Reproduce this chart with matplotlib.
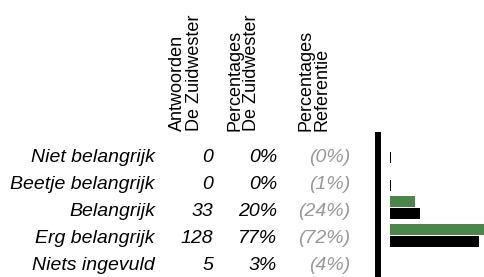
import numpy as np
import matplotlib
matplotlib.use("Agg")
import matplotlib.pyplot as plt
import matplotlib.transforms as mtransforms

plt.rcParams['font.family'] = ['Liberation Sans', 'DejaVu Sans']

# data
categories = ["Niet belangrijk", "Beetje belangrijk", "Belangrijk",
              "Erg belangrijk", "Niets ingevuld"]
counts = [0, 0, 33, 128, 5]
pct_zw = [0, 0, 20, 77, 3]
pct_ref_labels = ["(0%)", "(1%)", "(24%)", "(72%)", "(4%)"]
# bars only for the first four answers
bar_zw = [0, 0, 20, 77]
bar_ref = [0.6, 1, 24, 72]
headers = ["Antwoorden\nDe Zuidwester", "Percentages\nDe Zuidwester",
           "Percentages\nReferentie"]

W, H = 485, 277
fig = plt.figure(figsize=(W / 100, H / 100), dpi=100)

# bar axes (pixel box: x 390..485, y 135..275 from top)
ax = fig.add_axes([390 / W, 1 - 275 / H, 95 / W, 140 / H])
ax.set_xlim(0, 77)
ax.set_ylim(4.18, -0.82)

rows = np.arange(len(bar_zw))
bh = 11 / 28
ax.barh(rows - 12.5 / 28, bar_zw, height=bh, color="#4b864b", align="center")
ax.barh(rows, bar_ref, height=bh, color="black", align="center")

for s in ["top", "right", "bottom"]:
    ax.spines[s].set_visible(False)
ax.spines["left"].set_linewidth(4.3)
ax.spines["left"].set_position(("outward", 8.6))
ax.set_xticks([])
ax.set_yticks([])
ax.patch.set_alpha(0)

# text columns
trans = mtransforms.blended_transform_factory(fig.transFigure, ax.transData)
fs = 14
for i, cat in enumerate(categories):
    y = i * 27 / 28 - 0.02
    ax.text(155 / W, y, cat, transform=trans, ha="right", va="center",
            fontsize=fs, style="italic")
    ax.text(213 / W, y, str(counts[i]), transform=trans, ha="right", va="center",
            fontsize=fs, style="italic")
    ax.text(277 / W, y, "%d%%" % pct_zw[i], transform=trans, ha="right", va="center",
            fontsize=fs, style="italic")
    ax.text(350 / W, y, pct_ref_labels[i], transform=trans, ha="right", va="center",
            fontsize=fs, style="italic", color="#999999")

# rotated headers
for xh, txt in zip([186, 243, 314], headers):
    fig.text(xh / W, 1 - 131 / H, txt, rotation=90, rotation_mode="anchor",
             ha="left", va="center", fontsize=13, linespacing=0.95)

fig.savefig("out.png", dpi=100)
